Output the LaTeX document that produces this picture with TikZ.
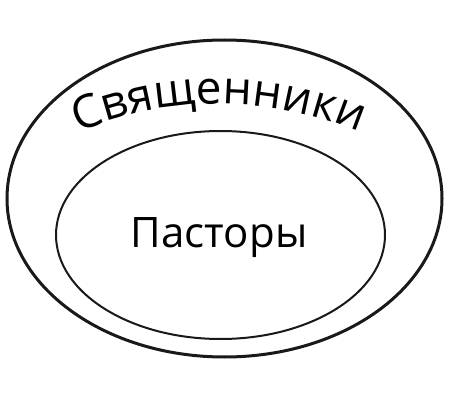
\documentclass[tikz,border=0pt]{standalone}
\usepackage{fontspec}
\setmainfont{Open Sans}
\newfontfamily\labfont{Open Sans}
\usetikzlibrary{shapes.geometric,decorations.text}
\tikzset{
  setbox/.style={draw=black!90, ellipse, inner sep=0pt},
  outerset/.style={setbox, line width=3pt},
  innerset/.style={setbox, line width=2pt},
}
\begin{document}
\begin{tikzpicture}[x=1pt,y=1pt]
\useasboundingbox[fill=white] (0,0) rectangle (450,405);
\node[outerset, minimum width=435pt, minimum height=317pt] (outer) at (224.5,206.5) {};
\node[innerset, minimum width=329pt, minimum height=208pt] (inner) at (220.5,170) {};
\node[anchor=base, font=\fontsize{42}{42}\selectfont, inner sep=0pt] (pastors) at (219,158) {Пасторы};
\path[decorate, decoration={text along path, text align=center,
  text={|\fontsize{46}{46}\selectfont|Священники}}]
  (219,-61) ++(120:362) arc[start angle=120, end angle=60, radius=362];
\end{tikzpicture}
\end{document}
